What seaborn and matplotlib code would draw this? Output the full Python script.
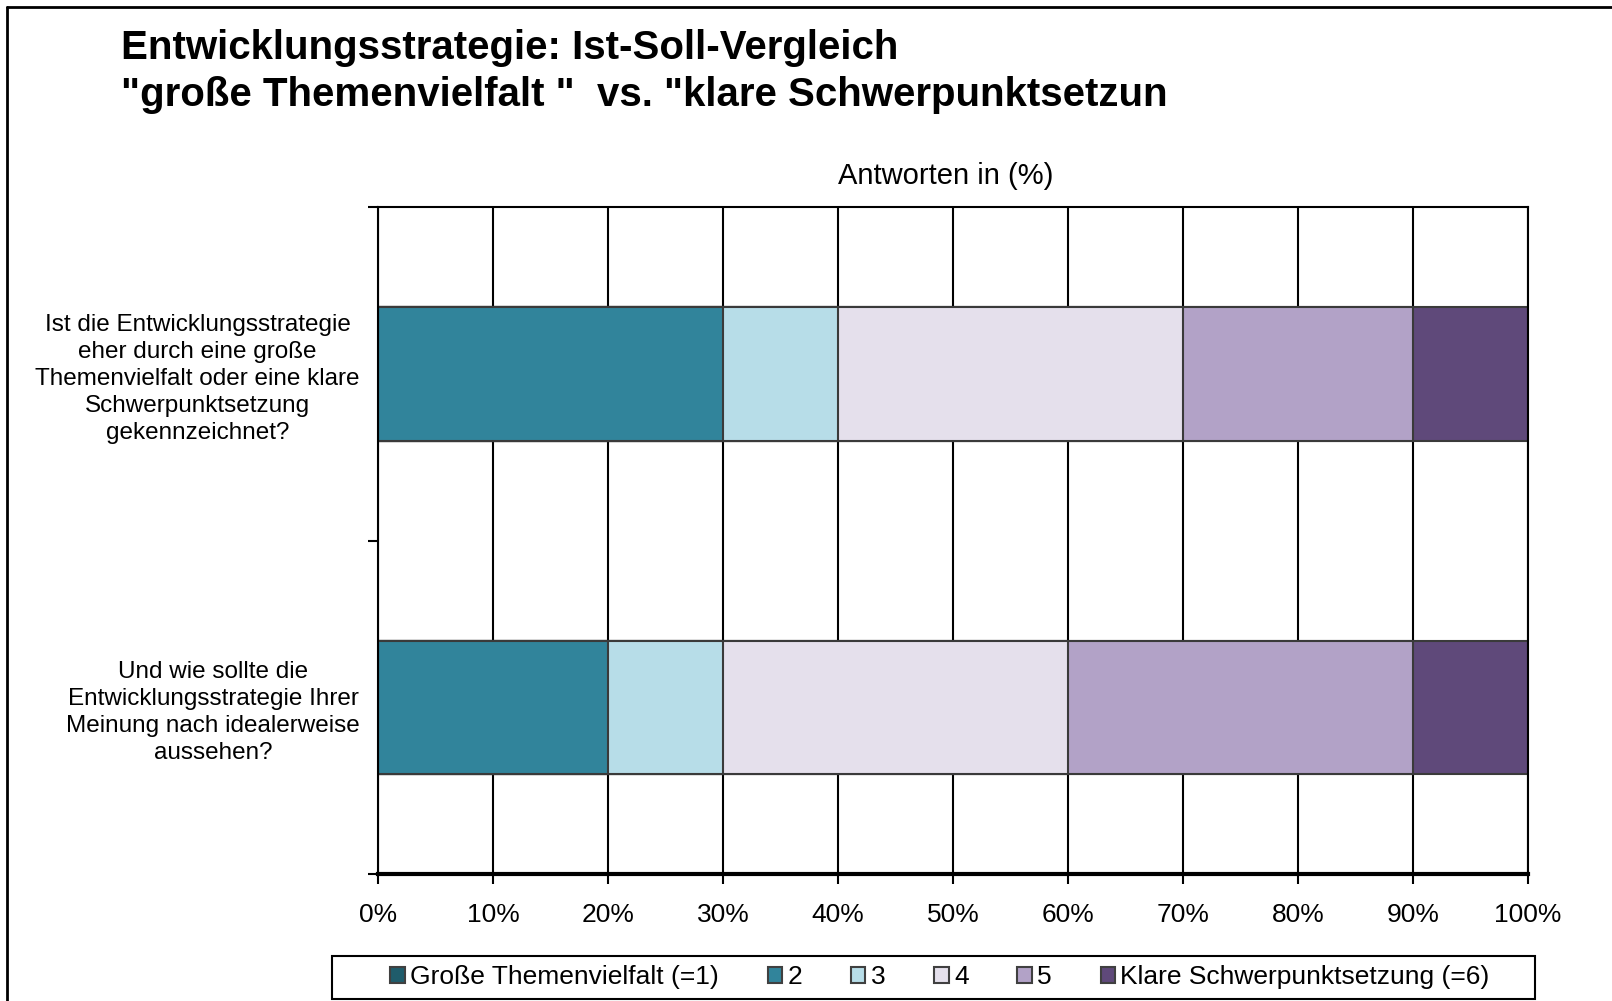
import seaborn as sns
import matplotlib.pyplot as plt
import pandas as pd
from matplotlib.patches import Patch, Rectangle
from matplotlib.lines import Line2D
from matplotlib.ticker import FuncFormatter, MultipleLocator, FixedLocator

# data (percent of answers)
questions = ["Ist die Entwicklungsstrategie\neher durch eine große\nThemenvielfalt oder eine klare\nSchwerpunktsetzung\ngekennzeichnet?",
             "Und wie sollte die\nEntwicklungsstrategie Ihrer\nMeinung nach idealerweise\naussehen?"]
categories = ["Große Themenvielfalt (=1)", "2", "3", "4", "5", "Klare Schwerpunktsetzung (=6)"]
ist = [0, 30, 10, 30, 20, 10]
soll = [0, 20, 10, 30, 30, 10]
colors = ["#1f5c6b", "#31849b", "#b7dde8", "#e5e0ec", "#b2a2c7", "#5f497a"]

sns.set_style("white")
plt.rcParams['font.family'] = ['Liberation Sans', 'DejaVu Sans']
plt.rcParams['text.color'] = 'black'
plt.rcParams['xtick.color'] = 'black'
plt.rcParams['ytick.color'] = 'black'
plt.rcParams['axes.labelcolor'] = 'black'

df = pd.DataFrame([ist, soll], columns=categories)
df.insert(0, "Frage", questions)
cum = df[categories].cumsum(axis=1)
cum.insert(0, "Frage", questions)

fig = plt.figure(figsize=(16.12, 10.01), dpi=100)
ax = fig.add_axes([0.2345, 0.127, 0.7135, 0.666])

# stacked bars: draw cumulative sums from the widest down
for cat, col in reversed(list(zip(categories, colors))):
    sns.barplot(data=cum, x=cat, y="Frage", orient="h", color=col, saturation=1,
                width=0.4, edgecolor="#3a3a3a", linewidth=1.5, errorbar=None, ax=ax)

ax.set_xlim(0, 100)
ax.set_ylim(1.5, -0.5)
ax.set_xlabel("")
ax.set_ylabel("")

ax.xaxis.set_major_locator(MultipleLocator(10))
ax.xaxis.set_major_formatter(FuncFormatter(lambda v, p: f"{v:.0f}%"))
ax.xaxis.grid(True, color="black", lw=1.5)
ax.set_axisbelow(True)
ax.tick_params(axis="x", direction="out", length=7, width=1.5, pad=14, labelsize=19, bottom=True,
               colors="black")

ax.set_yticks([0, 1])
ax.set_yticklabels(questions, fontsize=17.5, ha="right", multialignment="center", linespacing=1.3,
                   color="black")
ax.tick_params(axis="y", which="major", length=0, pad=13, left=True)
ax.yaxis.set_minor_locator(FixedLocator([-0.5, 0.5, 1.5]))
ax.tick_params(axis="y", which="minor", direction="out", length=7, width=1.5, left=True, colors="black")

for side in ["left", "top", "right"]:
    ax.spines[side].set_visible(True)
    ax.spines[side].set_color("black")
    ax.spines[side].set_linewidth(1.5)
ax.spines["bottom"].set_color("black")
ax.spines["bottom"].set_linewidth(3)

# titles
fig.text(121 / 1612, 1 - 59 / 1001, "Entwicklungsstrategie: Ist-Soll-Vergleich",
         fontsize=29, fontweight="bold", va="baseline", ha="left", color="black")
fig.text(121 / 1612, 1 - 106 / 1001, "\"große Themenvielfalt \"  vs. \"klare Schwerpunktsetzun",
         fontsize=29, fontweight="bold", va="baseline", ha="left", color="black")
fig.text(946 / 1612, 1 - 184 / 1001, "Antworten in (%)", fontsize=21, va="baseline", ha="center",
         color="black")

# legend (frame drawn separately, wider than its content)
handles = [Patch(facecolor=c, edgecolor="#404040", linewidth=1.5) for c in colors]
leg = fig.legend(handles, categories, loc="center", bbox_to_anchor=(940 / 1612, 1 - 977 / 1001),
                 bbox_transform=fig.transFigure, ncol=6, fontsize=19, frameon=False,
                 handlelength=0.55, handleheight=0.55, handletextpad=0.2, columnspacing=1.85)
for t in leg.get_texts():
    t.set_color("black")
fig.add_artist(Rectangle((332 / 1612, 1 - 999 / 1001), (1535 - 332) / 1612, 43 / 1001,
                         transform=fig.transFigure, fill=False, edgecolor="black", lw=1.5))

# outer frame (top and left edge)
fig.add_artist(Line2D([7 / 1612, 1], [1 - 7 / 1001, 1 - 7 / 1001], transform=fig.transFigure, color="black", lw=2))
fig.add_artist(Line2D([7 / 1612, 7 / 1612], [0, 1 - 7 / 1001], transform=fig.transFigure, color="black", lw=2))

fig.savefig("out.png", dpi=100)
